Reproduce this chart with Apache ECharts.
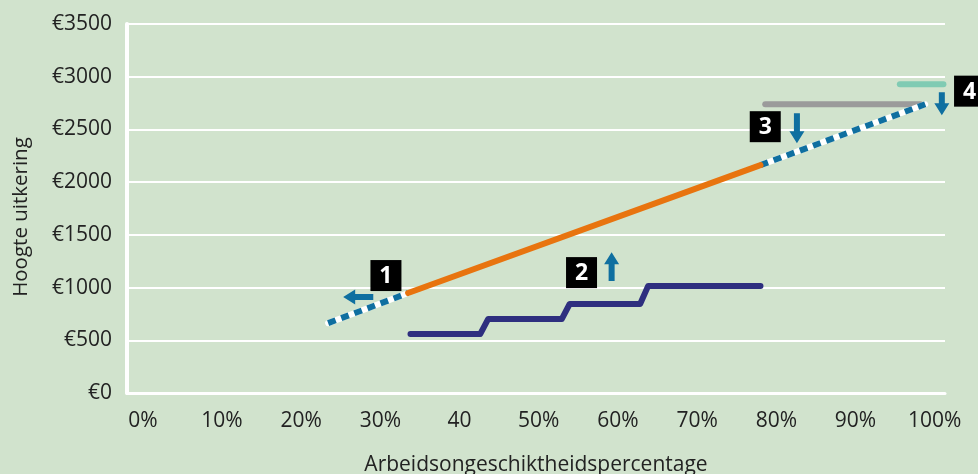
<!DOCTYPE html>
<html>
<head>
<meta charset="utf-8">
<script src="https://cdn.jsdelivr.net/npm/echarts@6/dist/echarts.min.js"></script>
<style>
html,body{margin:0;padding:0;background:#d1e3cd;}
#c{width:978px;height:474px;}
</style>
</head>
<body>
<div id="c"></div>
<script>
// ---- data ----
const xTicks = [0,10,20,30,40,50,60,70,80,90,100];
const xTickLabels = ['0%','10%','20%','30%','40','50%','60%','70%','80%','90%','100%'];
const yTicks = [0,500,1000,1500,2000,2500,3000,3500];
const orangeLine = [[33.5,948],[78,2161]];
const dashedLine = [[23.4,663],[33.5,948],null,[78,2161],[98.8,2739]];
const navyLine = [[33.8,559],[42.6,559],[43.6,701],[52.9,701],[53.9,844],[62.8,844],[63.8,1014],[78,1014]];
const grayLine = [[78.6,2739],[98.2,2739]];
const tealLine = [[95.6,2929],[101.1,2929]];
// annotation boxes: [x, y, label]
const boxes = [[30.7,1114,'1'],[55.4,1142,'2'],[78.6,2526,'3'],[104.4,2863,'4']];
// arrows: [x1, y1, x2, y2] (tail -> tip), data coords
const arrows = [[29.1,910,25.3,910],[59.2,1062,59.2,1336],[82.6,2654,82.6,2370],[100.9,2853,100.9,2635]];

const FONT = 'Open Sans';
const chart = echarts.init(document.getElementById('c'));
const option = {
  backgroundColor: '#d1e3cd',
  animation: false,
  textStyle: {fontFamily: FONT},
  grid: {left:127, right:33, top:24, bottom:81, containLabel:false, outerBoundsMode:'none'},
  xAxis: {
    type:'value', min:-2, max:101.3,
    name:'Arbeidsongeschiktheidspercentage', nameLocation:'middle', nameGap:62,
    nameTextStyle:{fontSize:21, color:'#222', fontFamily:FONT},
    axisLine:{show:true, onZero:false, lineStyle:{color:'#ffffff', width:3}},
    axisTick:{show:false},
    splitLine:{show:false},
    axisLabel:{customValues:xTicks, formatter:(v)=>xTickLabels[xTicks.indexOf(v)], fontSize:21, color:'#222', margin:18, fontFamily:FONT}
  },
  yAxis: {
    type:'value', min:0, max:3500, interval:500,
    name:'Hoogte uitkering', nameLocation:'middle', nameGap:95, nameRotate:90,
    nameTextStyle:{fontSize:20.5, color:'#222', fontFamily:FONT, padding:[0,17,0,0]},
    axisLine:{show:true, onZero:false, lineStyle:{color:'#ffffff', width:4}},
    axisTick:{show:false},
    splitLine:{show:true, lineStyle:{color:'#ffffff', width:2}},
    axisLabel:{formatter:(v)=>'€'+v, fontSize:21, color:'#222', margin:15, fontFamily:FONT}
  },
  series: [
    {type:'line', data:tealLine, symbol:'none', lineStyle:{color:'#80cbb3', width:6, cap:'round'}, z:2},
    {type:'line', data:grayLine, symbol:'none', lineStyle:{color:'#9b9b9b', width:6, cap:'round'}, z:2},
    {type:'line', data:dashedLine, symbol:'none', connectNulls:false, lineStyle:{color:'#ffffff', width:6, cap:'round'}, z:3},
    {type:'line', data:dashedLine, symbol:'none', connectNulls:false, lineStyle:{color:'#0f6fa0', width:6, type:[8,6], cap:'butt'}, z:4},
    {type:'line', data:orangeLine, symbol:'none', lineStyle:{color:'#e8740f', width:6, cap:'round'}, z:5},
    {type:'line', data:navyLine, symbol:'none', lineStyle:{color:'#2e2f7f', width:6, cap:'round', join:'round'}, z:5}
  ]
};
chart.setOption(option);

function px(x,y){ return chart.convertToPixel({xAxisIndex:0, yAxisIndex:0}, [x,y]); }
const graphics = [];
boxes.forEach(b=>{
  const p = px(b[0], b[1]);
  graphics.push({type:'rect', shape:{x:p[0]-15.5, y:p[1]-15.5, width:31, height:31}, style:{fill:'#000'}, z:10});
  graphics.push({type:'text', x:p[0], y:p[1]+1, style:{text:b[2], fill:'#fff', font:'bold 23px "Open Sans"', align:'center', verticalAlign:'middle'}, z:11});
});
arrows.forEach(a=>{
  const s = px(a[0], a[1]), e = px(a[2], a[3]);
  const dx = e[0]-s[0], dy = e[1]-s[1], L = Math.hypot(dx,dy);
  const ux = dx/L, uy = dy/L, nx = -uy, ny = ux;
  const w = 6, hw = 15, hl = 12;
  const bx = e[0]-ux*hl, by = e[1]-uy*hl;
  const pts = [
    [s[0]+nx*w/2, s[1]+ny*w/2],
    [bx+nx*w/2, by+ny*w/2],
    [bx+nx*hw/2, by+ny*hw/2],
    [e[0], e[1]],
    [bx-nx*hw/2, by-ny*hw/2],
    [bx-nx*w/2, by-ny*w/2],
    [s[0]-nx*w/2, s[1]-ny*w/2]
  ];
  graphics.push({type:'polygon', shape:{points:pts}, style:{fill:'#0f6fa0'}, z:10});
});
chart.setOption({graphic: graphics});
</script>
</body>
</html>
